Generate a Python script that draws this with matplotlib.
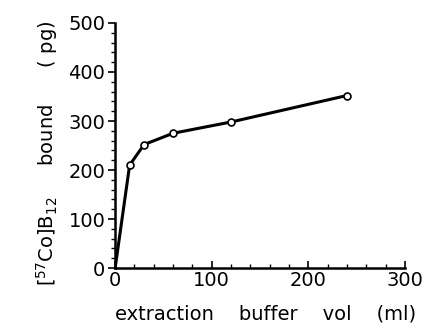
import matplotlib
matplotlib.use("Agg")
import matplotlib.pyplot as plt
from matplotlib.ticker import MultipleLocator

# Extraction buffer volume (ml) vs bound [57Co]B12 (pg)
buffer_vol = [0, 15, 30, 60, 120, 240]
bound_pg = [0, 210, 252, 275, 298, 352]

plt.rcParams["font.family"] = "DejaVu Sans"
plt.rcParams["mathtext.default"] = "regular"

fig = plt.figure(figsize=(4.28, 3.33), dpi=100)
ax = fig.add_axes([0.269, 0.195, 0.677, 0.736])

ax.plot(buffer_vol, bound_pg, color="black", linewidth=2.2, zorder=2)
ax.plot(buffer_vol[1:], bound_pg[1:], linestyle="none", marker="o",
        markersize=5, markerfacecolor="white", markeredgecolor="black",
        markeredgewidth=1.2, zorder=3)

ax.set_xlim(0, 300)
ax.set_ylim(0, 500)
ax.xaxis.set_major_locator(MultipleLocator(100))
ax.xaxis.set_minor_locator(MultipleLocator(20))
ax.yaxis.set_major_locator(MultipleLocator(100))
ax.yaxis.set_minor_locator(MultipleLocator(20))

for side in ("top", "right"):
    ax.spines[side].set_visible(False)
for side in ("left", "bottom"):
    ax.spines[side].set_linewidth(1.8)

ax.tick_params(axis="both", which="major", length=5, width=1.2,
               labelsize=14, pad=2)
ax.tick_params(axis="both", which="minor", length=3, width=1.0)
ax.tick_params(axis="x", which="both", direction="in")
ax.tick_params(axis="y", which="both", direction="out")

ax.set_xlabel("extraction    buffer    vol    (ml)", fontsize=14)
ax.xaxis.set_label_coords(0.52, -0.15)
ax.set_ylabel(r"$[^{57}$Co$]$B$_{12}$     bound      ( pg)", fontsize=14)
ax.yaxis.set_label_coords(-0.19, 0.47)

fig.savefig("out.png", dpi=100)
